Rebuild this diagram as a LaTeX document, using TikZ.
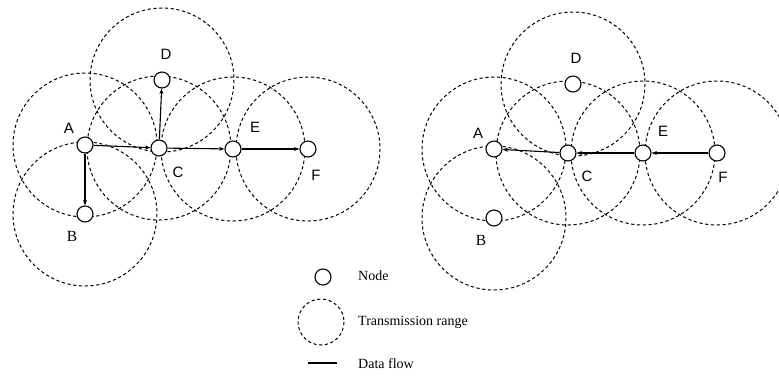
\documentclass[tikz,border=0pt]{standalone}
\usepackage{fontspec}
\setmainfont{Liberation Serif}
\newfontfamily\labfont{Liberation Sans}
\usetikzlibrary{arrows.meta,backgrounds}
\begin{document}
\begin{tikzpicture}[x=1pt,y=-1pt,
  mnode/.style={circle,draw,fill=white,line width=1.1pt,minimum size=16pt,inner sep=0pt},
  txrange/.style={draw,line width=1pt,dash pattern=on 3.2pt off 2.6pt},
  flow/.style={line width=1.1pt,-{Stealth[length=5.5pt,width=4pt]}},
  lab/.style={font=\labfont\fontsize{15}{17}\selectfont,inner sep=0pt},
  labB/.style={font=\fontsize{15.5}{17}\selectfont,inner sep=0pt},
  leg/.style={font=\fontsize{14}{16}\selectfont,anchor=west,inner sep=0pt}]
\useasboundingbox (0,0) rectangle (779,376);
\clip (0,0) rectangle (779,376);
% left diagram nodes
\node[mnode] (lA) at (85,145) {};
\node[mnode] (lB) at (85,214) {};
\node[mnode] (lC) at (159,148) {};
\node[mnode] (lD) at (162,80) {};
\node[mnode] (lE) at (233,149) {};
\node[mnode] (lF) at (308,149) {};
% right diagram nodes
\node[mnode] (rA) at (494,149) {};
\node[mnode] (rB) at (494,218) {};
\node[mnode] (rC) at (568,153) {};
\node[mnode] (rD) at (573,84) {};
\node[mnode] (rE) at (643,153) {};
\node[mnode] (rF) at (717,153) {};
% ranges
\begin{pgfonlayer}{background}
\foreach \n in {lA,lB,lC,lD,lE,lF,rA,rB,rC,rD,rE,rF}
  \draw[txrange] (\n) circle[radius=72];
\end{pgfonlayer}
% labels left
\node[lab] (tlA) at (69,128) {A};
\node[labB] (tlB) at (72,236) {B};
\node[lab] (tlC) at (178,172) {C};
\node[lab] (tlD) at (166,54) {D};
\node[lab] (tlE) at (255,127) {E};
\node[lab] (tlF) at (316,175) {F};
% labels right
\node[lab] (trA) at (478,133) {A};
\node[labB] (trB) at (481,240) {B};
\node[lab] (trC) at (587,176) {C};
\node[lab] (trD) at (576,58) {D};
\node[lab] (trE) at (663,131) {E};
\node[lab] (trF) at (723,177) {F};
% flows left
\draw[flow] (lA) -- (lC);
\draw[flow] (lA) -- (lB);
\draw[flow] (lC) -- (lD);
\draw[flow] (lC) -- (lE);
\draw[flow] (lE) -- (lF);
% flows right
\draw[flow] (rF) -- (rE);
\draw[flow] (rE) -- (rC);
\draw[flow] (rC) -- (rA);
% legend
\node[mnode] (gN) at (323,277) {};
\node[leg] (gNt) at (358,276) {Node};
\coordinate (gR) at (321,322);
\draw[txrange] (gR) circle[radius=23];
\node[leg] (gRt) at (358,322) {Transmission range};
\coordinate (gL1) at (308,363);
\coordinate (gL2) at (337,363);
\draw[line width=1.4pt] (gL1) -- (gL2);
\node[leg] (gLt) at (358,364) {Data flow};
\end{tikzpicture}
\end{document}
